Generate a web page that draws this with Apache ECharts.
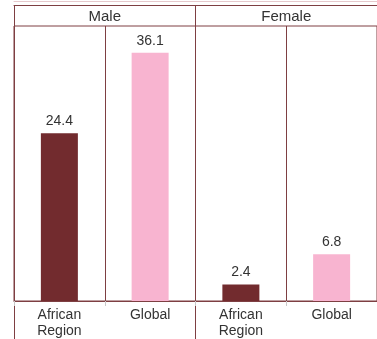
<!DOCTYPE html>
<html>
<head>
<meta charset="utf-8">
<script src="https://cdn.jsdelivr.net/npm/echarts@6/dist/echarts.min.js"></script>
<style>
  html, body { margin: 0; padding: 0; background: #fff; overflow: hidden; }
  #chart { width: 377px; height: 339px; }
</style>
</head>
<body>
<div id="chart"></div>
<script>
// Prevalence by sex and region
const groups = ['Male', 'Female'];
const categories = ['African\nRegion', 'Global', 'African\nRegion', 'Global'];
const values = [24.4, 36.1, 2.4, 6.8];
const barColors = ['#722B2E', '#F8B4D0', '#722B2E', '#F8B4D0'];

const lineColor = '#7E3F42';
const textColor = '#333333';
const font = 'Liberation Sans, Arial, sans-serif';

const chart = echarts.init(document.getElementById('chart'), null, { renderer: 'canvas' });

chart.setOption({
  animation: false,
  textStyle: { fontFamily: font },
  grid: [
    // faint outer rule along the very top
    { left: 14, width: 364, top: 1, height: 1 },
    // header band + full-height group dividers
    { left: 14, width: 364, top: 5, height: 340 },
    // plotting area
    { left: 14, width: 364, top: 26, height: 278, show: true, borderColor: lineColor, borderWidth: 1, backgroundColor: 'transparent' }
  ],
  xAxis: [
    {
      gridIndex: 0, type: 'category', data: groups, position: 'top',
      axisLine: { onZero: false, lineStyle: { color: '#E6C9CC', width: 1 } },
      axisTick: { show: false }, axisLabel: { show: false }, splitLine: { show: false }
    },
    {
      gridIndex: 1, type: 'category', data: groups, position: 'top',
      axisLine: { onZero: false, lineStyle: { color: lineColor, width: 1 } },
      axisTick: { show: false },
      axisLabel: { inside: true, margin: 4, color: textColor, fontSize: 15, fontFamily: font, verticalAlign: 'top' },
      splitLine: { show: true, lineStyle: { color: lineColor, width: 1 } }
    },
    {
      gridIndex: 2, type: 'category', data: categories, position: 'bottom',
      axisLine: { onZero: false, lineStyle: { color: lineColor, width: 1 } },
      axisTick: { show: true, length: 5, lineStyle: { color: '#C9C9C9' } },
      axisLabel: { margin: 6, color: textColor, fontSize: 14, lineHeight: 16, fontFamily: font },
      splitLine: { show: true, lineStyle: { color: lineColor, width: 1 } }
    }
  ],
  yAxis: [
    { gridIndex: 0, type: 'value', show: false },
    { gridIndex: 1, type: 'value', show: false },
    { gridIndex: 2, type: 'value', min: 0, max: 40, show: false, splitLine: { show: false } }
  ],
  series: [
    {
      type: 'bar',
      xAxisIndex: 2,
      yAxisIndex: 2,
      barWidth: 37,
      data: values.map((v, i) => ({ value: v, itemStyle: { color: barColors[i] } })),
      label: {
        show: true, position: 'top', distance: 5,
        color: textColor, fontSize: 14, fontFamily: font
      }
    }
  ]
});
</script>
</body>
</html>
